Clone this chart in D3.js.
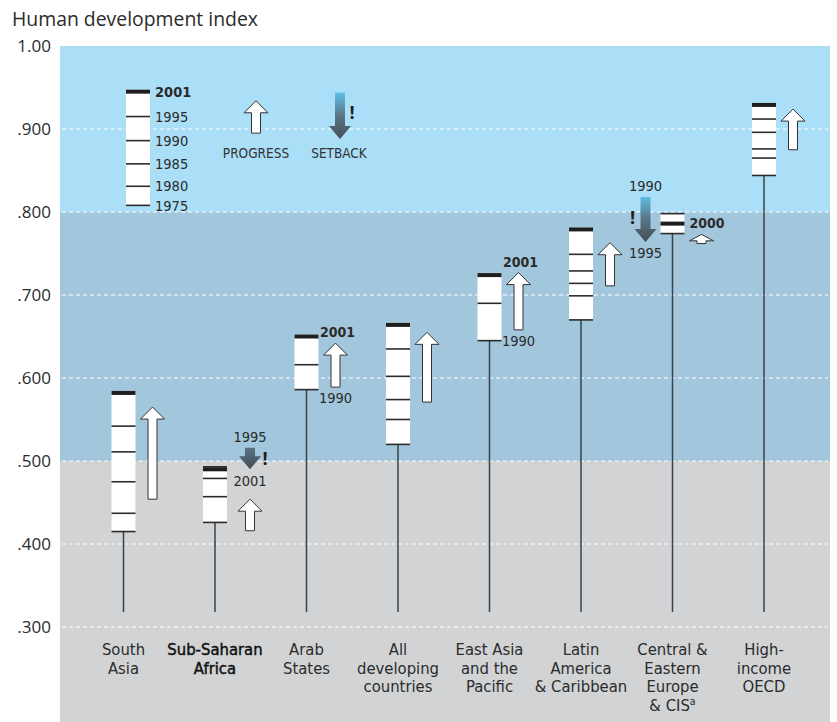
<!DOCTYPE html>
<html>
<head>
<meta charset="utf-8">
<script src="https://cdn.jsdelivr.net/npm/d3@7"></script>
<style>
  body { margin: 0; background: #fff; }
  svg { display: block; }
</style>
</head>
<body>
<script>
// HDI by region, 1975-2001 (null = not shown)
const years = [1975, 1980, 1985, 1990, 1995, 2001];
const regions = [
  "South Asia", "Sub-Saharan Africa", "Arab States", "All developing countries",
  "East Asia and the Pacific", "Latin America & Caribbean",
  "Central & Eastern Europe & CIS", "High-income OECD"
];
const regionLines = [
  ["South", "Asia"], ["Sub-Saharan", "Africa"], ["Arab", "States"],
  ["All", "developing", "countries"], ["East Asia", "and the", "Pacific"],
  ["Latin", "America", "& Caribbean"], ["Central &", "Eastern", "Europe", "& CIS"],
  ["High-", "income", "OECD"]
];
const southAsia     = [0.415, 0.437, 0.475, 0.511, 0.542, 0.582];
const subSaharan    = [0.426, 0.457, 0.479, 0.489, 0.493, 0.490];
const arabStates    = [null, null, null, 0.586, 0.616, 0.650];
const allDeveloping = [0.520, 0.550, 0.574, 0.602, 0.635, 0.664];
const eastAsia      = [null, null, null, 0.645, 0.690, 0.724];
const latinAmerica  = [0.670, 0.699, 0.714, 0.729, 0.749, 0.779];
const centralEurope = [null, null, null, 0.798, 0.774, 0.786]; // last = 2000
const highIncome    = [0.844, 0.865, 0.876, 0.896, 0.912, 0.929];
const series = [southAsia, subSaharan, arabStates, allDeveloping, eastAsia,
  latinAmerica, centralEurope, highIncome];

// key column
const keyYears = ["1975", "1980", "1985", "1990", "1995", "2001"];
const keyValues = [0.808, 0.831, 0.858, 0.886, 0.915, 0.945];

// progress / setback arrows, in HDI units
const arrows = [
  { region: "South Asia", from: 0.454, to: 0.565 },
  { region: "Sub-Saharan Africa", from: 0.416, to: 0.454 },
  { region: "Sub-Saharan Africa", from: 0.516, to: 0.490, fromLabel: "1995", toLabel: "2001" },
  { region: "Arab States", from: 0.589, to: 0.642, fromLabel: "1990", toLabel: "2001" },
  { region: "All developing countries", from: 0.571, to: 0.655 },
  { region: "East Asia and the Pacific", from: 0.658, to: 0.727, fromLabel: "1990", toLabel: "2001" },
  { region: "Latin America & Caribbean", from: 0.711, to: 0.763 },
  { region: "Central & Eastern Europe & CIS", from: 0.818, to: 0.764, fromLabel: "1990", toLabel: "1995" },
  { region: "Central & Eastern Europe & CIS", from: 0.762, to: 0.773, toLabel: "2000" },
  { region: "High-income OECD", from: 0.875, to: 0.924 }
];
const yTicks = [0.3, 0.4, 0.5, 0.6, 0.7, 0.8, 0.9, 1.0];

const width = 837, height = 722;
const plotLeft = 60, plotRight = 830;
const narrow = "'DejaVu Sans Condensed', 'DejaVu Sans', sans-serif";
const ink = "#2b2b2b";

const svg = d3.select("body").append("svg")
  .attr("width", width).attr("height", height)
  .style("font-family", "'Open Sans', sans-serif");

const y = d3.scaleLinear().domain([0.3, 1.0]).range([627, 46]);
const x = d3.scalePoint().domain(regions).range([123.5, 764]);
const defs = svg.append("defs");

// background bands
svg.append("rect").attr("x", plotLeft).attr("y", y(1.0))
  .attr("width", plotRight - plotLeft).attr("height", y(0.8) - y(1.0)).attr("fill", "#aadff7");
svg.append("rect").attr("x", plotLeft).attr("y", y(0.8))
  .attr("width", plotRight - plotLeft).attr("height", y(0.5) - y(0.8)).attr("fill", "#a2c7dc");
svg.append("rect").attr("x", plotLeft).attr("y", y(0.5))
  .attr("width", plotRight - plotLeft).attr("height", height - y(0.5)).attr("fill", "#d1d3d5");

// grid
svg.append("g").selectAll("line")
  .data(yTicks.filter(d => d < 1))
  .enter().append("line")
  .attr("x1", plotLeft + 2).attr("x2", plotRight - 2)
  .attr("y1", d => y(d)).attr("y2", d => y(d))
  .attr("stroke", "#fff").attr("stroke-width", 1).attr("stroke-dasharray", "4,3");

// y axis labels
const yAxis = d3.axisLeft(y).tickValues(yTicks).tickSize(0).tickPadding(0)
  .tickFormat(d => d === 1 ? "1.00" : d3.format(".3f")(d).replace(/^0/, ""));
const yg = svg.append("g").attr("transform", "translate(51,0)").call(yAxis);
yg.select(".domain").remove();
yg.selectAll("text").attr("font-size", 17).attr("fill", ink)
  .style("font-family", "'Open Sans', sans-serif");

// title
svg.append("text").attr("x", 12).attr("y", 26)
  .attr("font-size", 19.4).attr("fill", ink).text("Human development index");

// stems
const stemBottom = y(0.318);
svg.append("g").selectAll("line")
  .data(regions).enter().append("line")
  .attr("x1", d => x(d)).attr("x2", d => x(d))
  .attr("y1", (d, i) => y(d3.min(series[i])))
  .attr("y2", stemBottom)
  .attr("stroke", "#39424a").attr("stroke-width", 1.5);

// boxes
const boxW = 24;
function drawBox(g, cx, vals, thickVal) {
  const vmax = d3.max(vals), vmin = d3.min(vals);
  const top = Math.min(y(vmax), y(thickVal) - 2);
  g.append("rect").attr("x", cx - boxW / 2).attr("y", top)
    .attr("width", boxW).attr("height", y(vmin) - top).attr("fill", "#fff");
  vals.forEach(v => {
    if (v == null || v === thickVal) return;
    g.append("line").attr("x1", cx - boxW / 2).attr("x2", cx + boxW / 2)
      .attr("y1", y(v)).attr("y2", y(v))
      .attr("stroke", ink).attr("stroke-width", 1.6);
  });
  g.append("rect").attr("x", cx - boxW / 2).attr("y", y(thickVal) - 2)
    .attr("width", boxW).attr("height", 4).attr("fill", "#1e1e1e");
}
const boxes = svg.append("g");
regions.forEach((r, i) => {
  const vals = series[i];
  drawBox(boxes, x(r), vals.filter(v => v != null), vals[vals.length - 1]);
});

// key column
const keyX = 138;
drawBox(svg.append("g"), keyX, keyValues, keyValues[keyValues.length - 1]);
svg.append("g").selectAll("text")
  .data(keyYears).enter().append("text")
  .attr("x", keyX + 17).attr("y", (d, i) => y(keyValues[i])).attr("dy", "0.36em")
  .attr("font-size", 14.5).attr("fill", ink)
  .attr("font-weight", d => d === "2001" ? "bold" : "normal")
  .style("font-family", narrow).text(d => d);

// arrows
function arrowPath(cx, yTail, yTip, shaftW, headW, headMax) {
  const dir = yTip < yTail ? -1 : 1;
  const hl = Math.min(headMax, Math.abs(yTip - yTail) * 0.7);
  const yNeck = yTip - dir * hl;
  return `M${cx - shaftW / 2},${yTail}L${cx - shaftW / 2},${yNeck}L${cx - headW / 2},${yNeck}` +
    `L${cx},${yTip}L${cx + headW / 2},${yNeck}L${cx + shaftW / 2},${yNeck}L${cx + shaftW / 2},${yTail}Z`;
}
let gradId = 0;
function drawArrow(g, cx, from, to) {
  const up = to > from;
  if (up) {
    g.append("path")
      .attr("d", arrowPath(cx, y(from), y(to), 9, 24, 12))
      .attr("fill", "#fff").attr("stroke", "#333").attr("stroke-width", 1);
    return;
  }
  // setback: gradient fixed in length, ending at the tip
  const id = "setback" + (gradId++);
  const gr = defs.append("linearGradient").attr("id", id)
    .attr("gradientUnits", "userSpaceOnUse")
    .attr("x1", 0).attr("x2", 0).attr("y1", y(to) - 47).attr("y2", y(to));
  gr.append("stop").attr("offset", "0%").attr("stop-color", "#5fc3ec");
  gr.append("stop").attr("offset", "50%").attr("stop-color", "#5a7688");
  gr.append("stop").attr("offset", "100%").attr("stop-color", "#454c54");
  g.append("path")
    .attr("d", arrowPath(cx, y(from), y(to), 10, 22, 13))
    .attr("fill", `url(#${id})`);
}
function bang(g, bx, by) {
  g.append("text").attr("x", bx).attr("y", by).attr("dy", "0.36em")
    .attr("text-anchor", "middle").attr("font-size", 18).attr("font-weight", "bold")
    .attr("fill", "#1e1e1e").text("!");
}
const ag = svg.append("g");
arrows.forEach(a => {
  const up = a.to > a.from;
  let cx = x(a.region) + 29;
  if (a.region === "Sub-Saharan Africa") cx = x(a.region) + 35;
  if (!up && a.region.startsWith("Central")) cx = x(a.region) - 27;
  drawArrow(ag, cx, a.from, a.to);
  const dirSign = up ? -1 : 1;
  const note = (txt, xx, yy, bold, anchor) => ag.append("text")
    .attr("x", xx).attr("y", yy).attr("dy", "0.36em").attr("text-anchor", anchor || "middle")
    .attr("font-size", bold ? 14 : 14.5).attr("fill", ink).attr("font-weight", bold ? "bold" : "normal")
    .style("font-family", narrow).text(txt);
  if (a.fromLabel) note(a.fromLabel, cx, y(a.from) - dirSign * 11, false);
  if (a.toLabel) {
    if (up && a.toLabel === "2000") note(a.toLabel, cx - 12, y(a.to) - 11, true, "start");
    else note(a.toLabel, cx + (up ? 2 : 0), y(a.to) + dirSign * 11, up);
  }
  if (!up) {
    const mid = (y(a.from) + y(a.to)) / 2;
    if (a.region.startsWith("Central")) bang(ag, cx - 13, mid - 2);
    else bang(ag, cx + 15, mid);
  }
});

// legend arrows
const lg = svg.append("g");
drawArrow(lg, 256, 0.895, 0.934);
drawArrow(lg, 340, 0.944, 0.888);
bang(lg, 352, y(0.92));
lg.selectAll("text.lab").data([["PROGRESS", 256], ["SETBACK", 339]]).enter()
  .append("text").attr("class", "lab")
  .attr("x", d => d[1]).attr("y", 158).attr("text-anchor", "middle")
  .attr("font-size", 13.5).attr("fill", "#333").style("font-family", narrow)
  .text(d => d[0]);

// region labels
const labels = svg.append("g");
regions.forEach((r, i) => {
  const emph = r === "Sub-Saharan Africa";
  const t = labels.append("text")
    .attr("x", x(r)).attr("y", 655).attr("text-anchor", "middle")
    .attr("font-size", 16.5).attr("fill", emph ? "#111" : ink).style("font-family", narrow)
    .attr("stroke", emph ? "#111" : "none").attr("stroke-width", emph ? 0.45 : 0);
  regionLines[i].forEach((line, j) => {
    t.append("tspan").attr("x", x(r)).attr("dy", j === 0 ? 0 : 18.7).text(line);
    if (line === "& CIS") {
      t.append("tspan").attr("font-size", 10.5).attr("dy", -6).text("a");
    }
  });
});
</script>
</body>
</html>
